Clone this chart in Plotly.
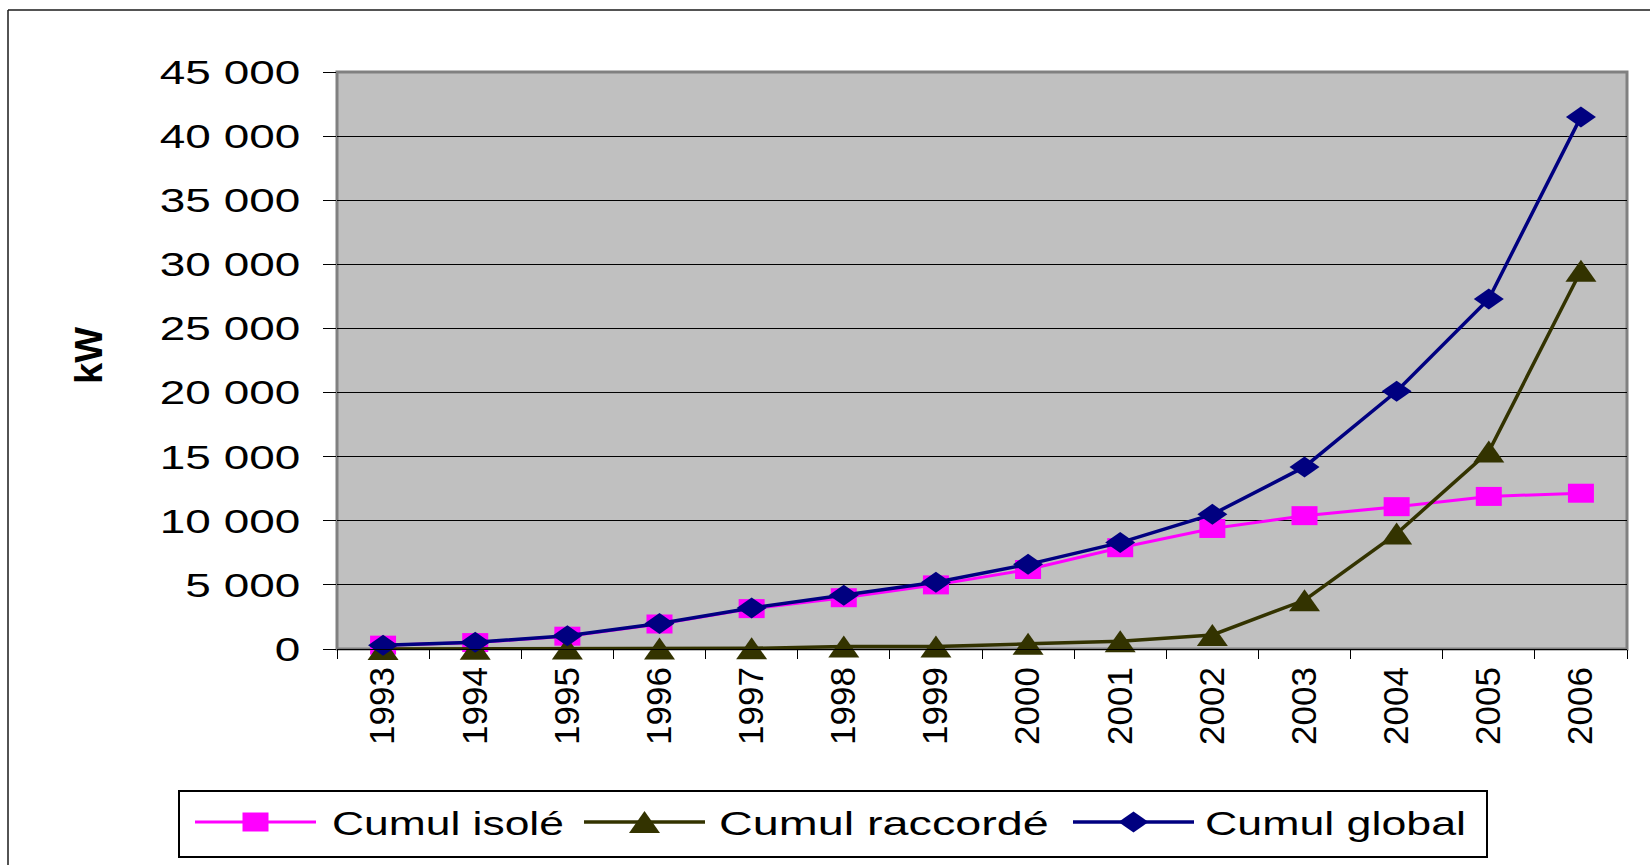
import plotly.graph_objects as go

# ---------------- data ----------------
years = ["1993", "1994", "1995", "1996", "1997", "1998", "1999",
         "2000", "2001", "2002", "2003", "2004", "2005", "2006"]
cumul_isole = [300, 500, 1000, 1950, 3150, 4000, 5000, 6200, 7900, 9400,
               10400, 11100, 11900, 12150]
cumul_raccorde = [0, 20, 30, 40, 50, 200, 200, 400, 600, 1100,
                  3800, 9000, 15400, 29500]
cumul_global = [300, 520, 1030, 1990, 3200, 4200, 5200, 6600, 8300, 10500,
                14200, 20100, 27300, 41500]
series_names = ["Cumul isolé", "Cumul raccordé", "Cumul global"]
y_tick_vals = [0, 5000, 10000, 15000, 20000, 25000, 30000, 35000, 40000, 45000]
y_tick_text = ["0", "5 000", "10 000", "15 000", "20 000", "25 000",
               "30 000", "35 000", "40 000", "45 000"]
y_title = "kW"

# ---------------- layout constants (pixels) ----------------
W, H = 1650, 865
PL, PR, PT, PB = 337, 1627, 72, 649          # plot area
PW, PH = PR - PL, PB - PT
FONT = "Liberation Sans, Arial, Helvetica, sans-serif"


def px_x(x):
    return (x - PL) / PW


def px_y(y):
    return (PB - y) / PH


fig = go.Figure()
styles = [
    dict(color="#FF00FF", width=3, symbol="square", size=22),
    dict(color="#333300", width=3.5, symbol="triangle-up", size=26),
    dict(color="#000080", width=3.5, symbol="diamond", size=20),
]
for name, vals, st in zip(series_names,
                          [cumul_isole, cumul_raccorde, cumul_global], styles):
    fig.add_trace(go.Scatter(
        x=years, y=vals, name=name, mode="lines+markers",
        line=dict(color=st["color"], width=st["width"]),
        marker=dict(symbol=st["symbol"], size=st["size"], color=st["color"],
                    line=dict(width=0)),
        cliponaxis=False,
    ))

fig.update_layout(
    width=W, height=H,
    margin=dict(l=PL, r=W - PR, t=PT, b=H - PB, pad=0, autoexpand=False),
    paper_bgcolor="white",
    plot_bgcolor="#C0C0C0",
    font=dict(family=FONT, color="black", size=34),
    showlegend=True,
    legend=dict(
        orientation="h", x=px_x(179), y=px_y(791), xanchor="left", yanchor="top",
        bgcolor="white", bordercolor="black", borderwidth=1.5,
        font=dict(family=FONT, size=34, color="black"),
        itemwidth=121, itemclick=False, itemdoubleclick=False,
    ),
    xaxis=dict(
        type="category", range=[-0.5, len(years) - 0.5],
        tickson="boundaries", ticks="outside", ticklen=9, tickcolor="black",
        tickwidth=1, showgrid=False, showline=True, linecolor="black",
        linewidth=1, tickangle=-90, ticklabelstandoff=3,
        tickfont=dict(family=FONT, size=35, color="black"),
        fixedrange=True, zeroline=False,
    ),
    yaxis=dict(
        range=[0, 45000], tickvals=y_tick_vals, ticktext=y_tick_text,
        ticks="outside", ticklen=13, tickcolor="black", tickwidth=1,
        showgrid=True, gridcolor="black", gridwidth=1,
        showline=False, zeroline=False, ticklabelstandoff=16,
        tickfont=dict(family=FONT, size=34, color="black"),
        fixedrange=True,
    ),
    shapes=[
        # plot area border (grey)
        dict(type="rect", xref="paper", yref="paper", x0=0, x1=1, y0=0, y1=1,
             line=dict(color="#808080", width=3), fillcolor="rgba(0,0,0,0)",
             layer="below"),
        # outer chart border (top and left)
        dict(type="line", xref="paper", yref="paper",
             x0=px_x(8), x1=px_x(1660), y0=px_y(10), y1=px_y(10),
             line=dict(color="#1a1a1a", width=1.5)),
        dict(type="line", xref="paper", yref="paper",
             x0=px_x(8), x1=px_x(8), y0=px_y(10), y1=px_y(880),
             line=dict(color="#1a1a1a", width=1.5)),
    ],
    annotations=[
        dict(text="<b>" + y_title + "</b>", xref="paper", yref="paper",
             x=px_x(89), y=px_y(356), xanchor="center", yanchor="middle",
             textangle=-90, showarrow=False,
             font=dict(family=FONT, size=38, color="black")),
    ],
)

post_js = r"""
document.body.style.margin = '0';
var gd = document.getElementById('{plot_id}');
var gdr = gd.getBoundingClientRect();
function parseT(el){
  var tr = el.getAttribute('transform') || '';
  var m = /translate\(\s*([-\d.e+]+)[\s,]*([-\d.e+]*)\s*\)/.exec(tr);
  return m ? [parseFloat(m[1]), parseFloat(m[2] || '0')] : [0, 0];
}
function relBox(el){
  var r = el.getBoundingClientRect();
  return {l: r.left - gdr.left, t: r.top - gdr.top, r: r.right - gdr.left,
          b: r.bottom - gdr.top, w: r.width, h: r.height};
}
function fitMarker(p, tw, th){
  var t = parseT(p); var bb = p.getBBox();
  if (!bb.width || !bb.height) return;
  var sx = tw / bb.width, sy = th / bb.height;
  var cx = bb.x + bb.width / 2, cy = bb.y + bb.height / 2;
  p.setAttribute('transform', 'translate(' + t[0] + ',' + t[1] + ') scale(' + sx + ',' + sy +
                 ') translate(' + (-cx) + ',' + (-cy) + ')');
}
try {
  // widen y tick labels about their right edge
  gd.querySelectorAll('.yaxislayer-above text').forEach(function(t){
    var x = parseFloat(t.getAttribute('x') || '0');
    var tr = t.getAttribute('transform') || '';
    t.setAttribute('transform', tr + ' translate(' + x + ',0) scale(1.35,1) translate(' + (-x) + ',0)');
  });
  var targets = [[26, 19], [31, 22], [30, 21]];
  gd.querySelectorAll('.scatterlayer .trace').forEach(function(tr, i){
    tr.querySelectorAll('path.point').forEach(function(p){ fitMarker(p, targets[i][0], targets[i][1]); });
  });
  var leg = gd.querySelector('g.legend');
  if (leg) {
    leg.querySelectorAll('[clip-path]').forEach(function(e){ e.removeAttribute('clip-path'); });
    var lineStarts = [195, 584, 1073], textStarts = [332, 719, 1205], textW = [232, 330, 261];
    var lineY = 822;
    leg.querySelectorAll('g.traces').forEach(function(g, i){
      var ln = g.querySelector('.legendlines path');
      if (ln) {
        var b = relBox(ln); var t = parseT(g);
        var dx = lineStarts[i] - b.l, dy = lineY - (b.t + b.b) / 2;
        g.setAttribute('transform', 'translate(' + (t[0] + dx) + ',' + (t[1] + dy) + ')');
      }
      g.querySelectorAll('.legendpoints path').forEach(function(p){ fitMarker(p, targets[i][0], targets[i][1]); });
      var tx = g.querySelector('text.legendtext');
      if (tx) {
        var tb = relBox(tx);
        var x0 = parseFloat(tx.getAttribute('x') || '0');
        var nx = x0 + (textStarts[i] - tb.l);
        var sx = textW[i] / tb.w;
        tx.setAttribute('x', nx);
        var tt = tx.getAttribute('transform') || '';
        tx.setAttribute('transform', tt + ' translate(' + nx + ',0) scale(' + sx + ',1) translate(' + (-nx) + ',0)');
      }
    });
    var bg = leg.querySelector('rect.bg');
    if (bg) {
      var bb = relBox(bg);
      var bx = parseFloat(bg.getAttribute('x') || '0'), by = parseFloat(bg.getAttribute('y') || '0');
      bg.setAttribute('x', bx + (179 - bb.l));
      bg.setAttribute('y', by + (791 - bb.t));
      bg.setAttribute('width', 1487 - 179);
      bg.setAttribute('height', 857 - 791);
    }
  }
} catch (e) { console.log(e); }
"""

fig.write_html("out.html", post_script=post_js,
               config={"displayModeBar": False, "responsive": False})
